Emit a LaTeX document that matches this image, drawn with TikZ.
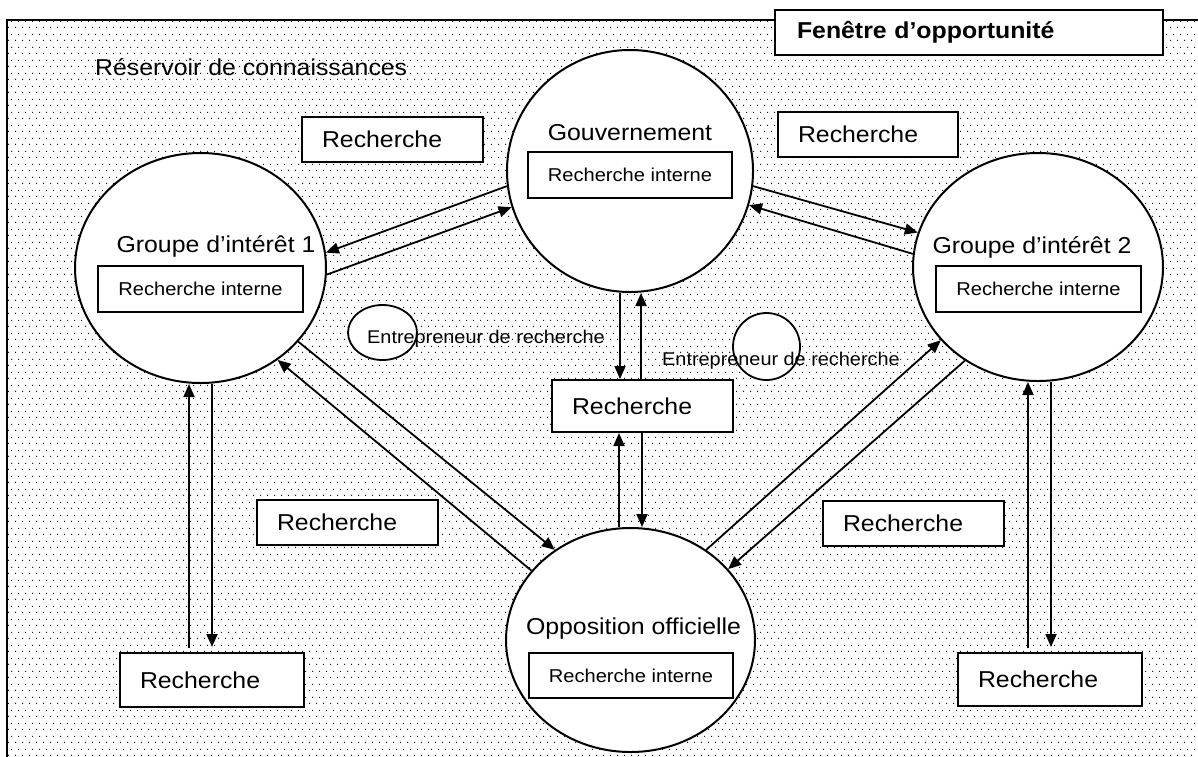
\documentclass[tikz,border=0pt]{standalone}
\usepackage{fontspec}
\setmainfont{Liberation Sans}[FakeStretch=1.08]
\usetikzlibrary{shapes.geometric,arrows.meta,patterns,calc}

% fine halftone stipple for the knowledge reservoir
\pgfdeclarepatternformonly{stipple}{\pgfpointorigin}{\pgfpoint{7pt}{13pt}}{\pgfpoint{7pt}{13pt}}{%
  \pgfpathcircle{\pgfpoint{1.75pt}{1.75pt}}{0.72pt}%
  \pgfpathcircle{\pgfpoint{5.25pt}{8.25pt}}{0.72pt}%
  \pgfusepath{fill}}

\tikzset{
  actor/.style={ellipse, draw, fill=white, inner sep=0pt, line width=2pt},
  ent/.style={ellipse, draw, fill=white, inner sep=0pt, line width=1.8pt},
  lbl/.style={font=\fontsize{23}{27}\selectfont, inner sep=0pt},
  inbox/.style={draw, fill=white, line width=2pt, inner sep=0pt,
    minimum width=204pt, minimum height=46pt, font=\fontsize{18.6}{22}\selectfont},
  rbox/.style={draw, fill=white, line width=2pt, inner xsep=20pt, inner ysep=0pt,
    text width=141pt, align=left, minimum height=45pt, font=\fontsize{23}{27}\selectfont},
  entlbl/.style={font=\fontsize{18.4}{22}\selectfont, inner sep=0pt, anchor=base west},
  arr/.style={-{Triangle[length=13pt,width=11pt]}, line width=1.8pt},
}

\begin{document}
\begin{tikzpicture}[x=1pt,y=-1pt]
\useasboundingbox (0,0) rectangle (1198,756);
\clip (0,0) rectangle (1198,756);

% reservoir of knowledge: stippled field and its frame
\fill[pattern=stipple] (7,20) rectangle (1210,770);
\draw[line width=2pt] (7,770) -- (7,20) -- (1210,20);

\node[lbl, anchor=base west] (pool) at (95,75) {Réservoir de connaissances};

\node[draw, fill=white, line width=2.5pt, inner xsep=22pt, inner ysep=0pt,
  text width=344pt, align=left, minimum height=45pt,
  font=\bfseries\fontsize{23}{27}\selectfont] (window) at (969,32.5) {Fenêtre d’opportunité};

% the four actors
\node[actor, minimum width=246pt, minimum height=242pt] (gouv) at (630,171) {};
\node[actor, minimum width=251pt, minimum height=230pt] (gi1) at (200.5,268) {};
\node[actor, minimum width=250pt, minimum height=228pt] (gi2) at (1038,267) {};
\node[actor, minimum width=249pt, minimum height=224pt] (opp) at (630.5,640) {};

\node[lbl, anchor=base] (gouvname) at (630,140) {Gouvernement};
\node[inbox] (gouvin) at (630,175) {Recherche interne};
\node[lbl, anchor=base] (gi1name) at (216,252) {Groupe d’intérêt 1};
\node[inbox, minimum width=205pt] (gi1in) at (200.5,289) {Recherche interne};
\node[lbl, anchor=base] (gi2name) at (1032,253) {Groupe d’intérêt 2};
\node[inbox, minimum width=205pt] (gi2in) at (1038.5,289) {Recherche interne};
\node[lbl, anchor=base] (oppname) at (633.5,634) {Opposition officielle};
\node[inbox, minimum height=45pt] (oppin) at (631,675.5) {Recherche interne};

% research entrepreneurs
\node[ent, minimum width=69pt, minimum height=55pt] (ent1) at (382.5,332.5) {};
\node[entlbl] (ent1name) at (367,343) {Entrepreneur de recherche};
\node[ent, minimum width=67pt, minimum height=67pt] (ent2) at (766.5,346.5) {};
\node[entlbl] (ent2name) at (662,365) {Entrepreneur de recherche};

% research boxes
\node[rbox] (rtl) at (392.5,139.5) {Recherche};
\node[rbox, text width=140pt] (rtr) at (868,134.5) {Recherche};
\node[rbox, minimum height=52pt] (rc) at (642.5,406) {Recherche};
\node[rbox] (rml) at (347.5,522.5) {Recherche};
\node[rbox] (rmr) at (913.5,523.5) {Recherche};
\node[rbox, text width=144pt, minimum height=54pt] (rbl) at (212,680) {Recherche};
\node[rbox, text width=144pt, minimum height=53pt] (rbr) at (1050,679.5) {Recherche};

% exchanges between government and interest groups
\draw[arr] (gouv.187) -- (gi1.7);
\draw[arr] (gi1.357) -- (gouv.197);
\draw[arr] (gouv.353) -- (gi2.164);
\draw[arr] (gi2.174) -- (gouv.344);

% government / opposition and the shared research
\draw[arr] ([xshift=-10pt]gouv.south) -- ([xshift=-10pt]gouv.south |- rc.north);
\draw[arr] ([xshift=11pt]gouv.south |- rc.north) -- ([xshift=11pt]gouv.south);
\draw[arr] ([xshift=-11.5pt]opp.north) -- ([xshift=-11.5pt]opp.north |- rc.south);
\draw[arr] ([xshift=11.5pt]opp.north |- rc.south) -- ([xshift=11.5pt]opp.north);

% interest groups and the opposition
\draw[arr] (gi1.323) -- (opp.130);
\draw[arr] (opp.145) -- (gi1.310);
\draw[arr] (opp.50) -- (gi2.217);
\draw[arr] (gi2.232) -- (opp.36);

% interest groups and their own research
\draw[arr, shorten <=4pt] ([xshift=-11.5pt]gi1.south |- rbl.north) -- ([xshift=-11.5pt]gi1.south);
\draw[arr, shorten >=5pt] ([xshift=11.5pt]gi1.south) -- ([xshift=11.5pt]gi1.south |- rbl.north);
\draw[arr, shorten <=4pt] ([xshift=-10pt]gi2.south |- rbr.north) -- ([xshift=-10pt]gi2.south);
\draw[arr, shorten >=5pt] ([xshift=13pt]gi2.south) -- ([xshift=13pt]gi2.south |- rbr.north);
\end{tikzpicture}
\end{document}
